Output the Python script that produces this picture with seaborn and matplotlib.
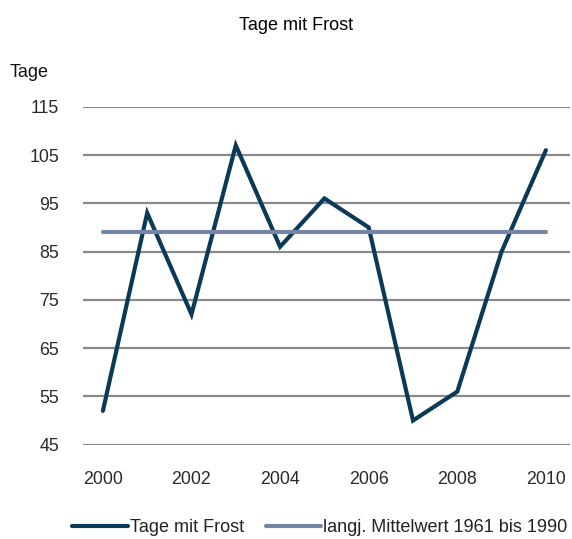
import matplotlib
matplotlib.use("Agg")
import matplotlib.pyplot as plt
import seaborn as sns
import pandas as pd

# Frost days per year and the long-term reference mean
years = [2000, 2001, 2002, 2003, 2004, 2005, 2006, 2007, 2008, 2009, 2010]
frost_days = [52, 93, 72, 107, 86, 96, 90, 50, 56, 85, 106]
reference_mean = [89] * len(years)
series_names = ["Tage mit Frost", "langj. Mittelwert 1961 bis 1990"]
y_ticks = [45, 55, 65, 75, 85, 95, 105, 115]
x_ticks = [2000, 2002, 2004, 2006, 2008, 2010]

sns.set_theme(style="white")
plt.rcParams["font.family"] = ["Liberation Sans", "DejaVu Sans"]

df = pd.DataFrame({
    "Jahr": years + years,
    "Tage": frost_days + reference_mean,
    "Reihe": [series_names[0]] * len(years) + [series_names[1]] * len(years),
})

fig = plt.figure(figsize=(5.72, 5.39), dpi=100)
ax = fig.add_axes([0.145, 0.175, 0.852, 0.627])

for yt in y_ticks:
    ax.axhline(yt, color="#8a8a8a", lw=1.6, zorder=0)

sns.lineplot(
    data=df, x="Jahr", y="Tage", hue="Reihe",
    palette={series_names[0]: "#0b3a58", series_names[1]: "#7585a4"},
    hue_order=[series_names[0], series_names[1]],
    linewidth=3, ax=ax, legend=True,
)
for line in ax.lines:
    line.set_solid_capstyle("round")
    line.set_solid_joinstyle("miter")

ax.set_xlim(1999.55, 2010.55)
ax.set_ylim(45, 115)
ax.set_yticks(y_ticks)
ax.set_xticks(x_ticks)
ax.tick_params(axis="both", length=0, labelsize=12.8, labelcolor="#2a2a2a")
ax.tick_params(axis="y", pad=17)
ax.tick_params(axis="x", pad=19)
for s in ax.spines.values():
    s.set_visible(False)
ax.set_xlabel("")
ax.set_ylabel("")

fig.text(0.017, 0.865, "Tage", fontsize=13, color="#111111", ha="left", va="center")
fig.text(0.518, 0.952, "Tage mit Frost", fontsize=13, color="#000000",
         ha="center", va="center")

handles, labels = ax.get_legend_handles_labels()
ax.legend(handles, labels, loc="center", bbox_to_anchor=(0.559, 0.021),
          bbox_transform=fig.transFigure, ncol=2, frameon=False,
          fontsize=13, handlelength=3.05, handletextpad=0.12,
          columnspacing=1.2, labelcolor="#222222")

fig.savefig("out.png", dpi=100)
